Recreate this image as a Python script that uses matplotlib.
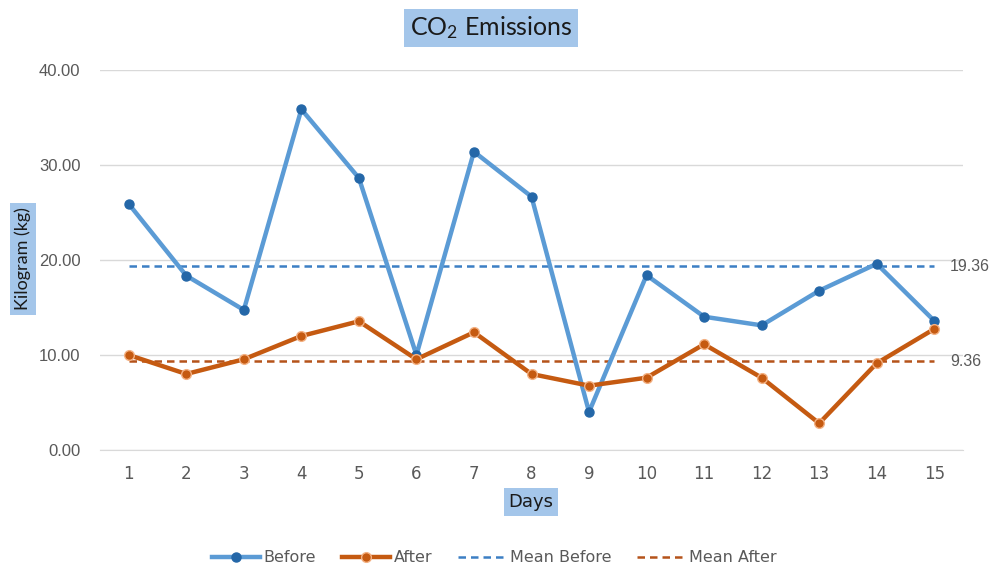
import matplotlib
matplotlib.use("Agg")
import matplotlib.pyplot as plt
from matplotlib.lines import Line2D

days = list(range(1, 16))
before = [25.9, 18.35, 14.74, 35.86, 28.63, 10.0, 31.4, 26.67, 4.0, 18.4, 14.03, 13.12, 16.77, 19.6, 13.6]
after = [10.0, 8.0, 9.55, 12.0, 13.55, 9.55, 12.39, 8.0, 6.77, 7.61, 11.13, 7.61, 2.81, 9.13, 12.74]
mean_before = 19.36
mean_after = 9.36
yticks = [0, 10, 20, 30, 40]

plt.rcParams['mathtext.fontset'] = 'custom'
plt.rcParams['mathtext.rm'] = 'Lato'
plt.rcParams['mathtext.it'] = 'Lato'

c_before = '#5B9BD5'
c_before_mk = '#2467A8'
c_after = '#C55A11'
c_mean_b = '#3C7FC4'
c_mean_a = '#B5531A'
box = '#A4C6EA'
grid_c = '#D9D9D9'
tick_c = '#595959'

fig = plt.figure(figsize=(9.93, 5.69), dpi=100)
ax = fig.add_axes([100/993, 1-450/569, 863/993, 380/569])

ax.plot(days, [mean_before]*len(days), ls=(0, (3, 2)), color=c_mean_b, lw=1.8, zorder=2)
ax.plot(days, [mean_after]*len(days), ls=(0, (3, 2)), color=c_mean_a, lw=1.8, zorder=2)
ax.plot(days, before, color=c_before, lw=3.2, marker='o', ms=6.5,
        markerfacecolor=c_before_mk, markeredgecolor=c_before_mk, zorder=3)
ax.plot(days, after, color=c_after, lw=3.2, marker='o', ms=7,
        markerfacecolor=c_after, markeredgecolor='#F4B183', markeredgewidth=1.0, zorder=4)

ax.set_xlim(0.5, 15.5)
ax.set_ylim(0, 40)
ax.set_yticks(yticks)
ax.set_yticklabels([f"{v:.2f}" for v in yticks], fontsize=12, color=tick_c, family='Liberation Sans')
ax.set_xticks(days)
ax.set_xticklabels([str(d) for d in days], fontsize=12, color=tick_c, family='Liberation Sans Narrow')
ax.tick_params(axis='y', length=0, pad=14)
ax.tick_params(axis='x', length=0, pad=11)
ax.grid(axis='y', color=grid_c, lw=1)
ax.set_axisbelow(True)
for s in ['top', 'right', 'left']:
    ax.spines[s].set_visible(False)
ax.spines['bottom'].set_color(grid_c)

ax.text(15.27, mean_before, f"{mean_before:.2f}", va='center', ha='left', fontsize=11.5,
        color=tick_c, family='Liberation Sans', clip_on=False)
ax.text(15.27, mean_after, f"{mean_after:.2f}", va='center', ha='left', fontsize=11.5,
        color=tick_c, family='Liberation Sans', clip_on=False)

fig.text(491/993, 1-28/569, 'CO$_2$ Emissions', ha='center', va='center', fontsize=18,
         family='Lato', color='#1a1a1a',
         bbox=dict(boxstyle='square,pad=0.22', facecolor=box, edgecolor='none'))
fig.text(23/993, 1-259/569, 'Kilogram (kg)', ha='center', va='center', rotation=90,
         fontsize=13, family='Lato', color='#1a1a1a',
         bbox=dict(boxstyle='square,pad=0.25', facecolor=box, edgecolor='none'))
fig.text(531/993, 1-502/569, 'Days', ha='center', va='center', fontsize=13,
         family='Liberation Sans Narrow', color='#1a1a1a',
         bbox=dict(boxstyle='square,pad=0.25', facecolor=box, edgecolor='none'))

handles = [
    Line2D([], [], color=c_before, lw=3.2, marker='o', ms=6.5, markerfacecolor=c_before_mk, markeredgecolor=c_before_mk),
    Line2D([], [], color=c_after, lw=3.2, marker='o', ms=7, markerfacecolor=c_after, markeredgecolor='#F4B183'),
    Line2D([], [], color=c_mean_b, lw=1.8, ls=(0, (3, 2))),
    Line2D([], [], color=c_mean_a, lw=1.8, ls=(0, (3, 2))),
]
leg = fig.legend(handles, ['Before', 'After', 'Mean Before', 'Mean After'], loc='center',
                 bbox_to_anchor=(494/993, 1-558/569), ncol=4, frameon=False,
                 prop={'family': 'Liberation Sans Narrow', 'size': 11.5}, handlelength=3.0,
                 handletextpad=0.25, columnspacing=1.6, labelcolor=tick_c)

fig.savefig('out.png', dpi=100)
